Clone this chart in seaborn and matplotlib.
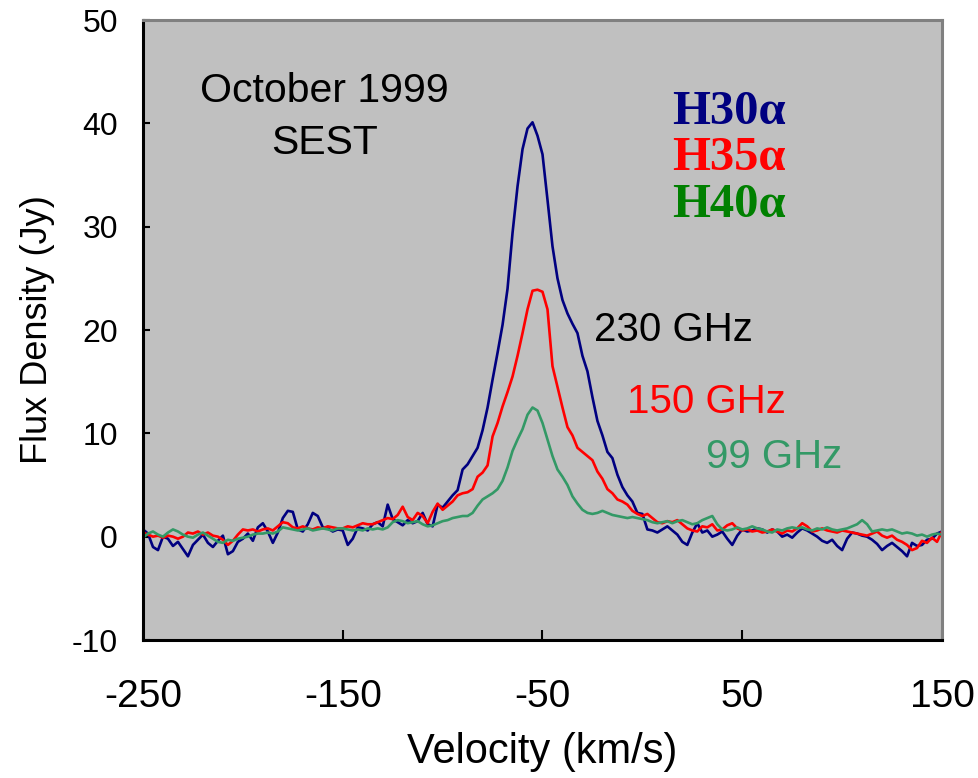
import numpy as np
import pandas as pd
import matplotlib
matplotlib.use("Agg")
import matplotlib.pyplot as plt
import seaborn as sns

# Velocity grid (km/s), 2.5 km/s channels from -250 to 150
velocity = np.arange(-250, 150.01, 2.5)

h30_230ghz = [
    0.7, 0.3, -1.0, -1.3, 0.0, -0.2, -0.9, -0.5, -1.2, -1.9,
    -0.8, -0.3, 0.2, -0.6, -1.0, -0.4, 0.1, -1.7, -1.4, -0.5,
    -0.2, 0.3, -0.4, 0.9, 1.3, 0.5, -0.6, 0.4, 1.8, 2.5,
    2.4, 0.7, 0.5, 1.2, 2.3, 2.0, 0.9, 0.8, 0.5, 0.7,
    0.6, -0.8, -0.2, 0.9, 0.8, 0.6, 1.2, 1.4, 1.0, 3.1,
    1.7, 1.4, 1.1, 1.6, 1.3, 1.5, 2.3, 1.2, 1.0, 3.1,
    2.8, 3.4, 4.0, 4.5, 6.5, 7.0, 7.8, 8.6, 10.3, 12.5,
    15.2, 17.8, 20.5, 24.0, 29.4, 33.9, 37.5, 39.5, 40.1, 38.8,
    37.0, 32.6, 28.1, 25.0, 22.9, 21.6, 20.6, 19.7, 17.5, 16.0,
    13.5, 11.2, 9.8, 8.2, 7.6, 6.0, 4.8, 4.0, 3.4, 2.3,
    2.2, 0.7, 0.6, 0.4, 0.7, 1.0, 0.6, 0.2, -0.5, -0.8,
    0.4, 1.3, 0.4, 0.6, 0.0, 0.2, 0.5, -0.2, -0.8, 0.1,
    0.7, 0.5, 0.6, 0.8, 0.7, 0.4, 0.7, 0.5, 0.0, 0.2,
    -0.1, 0.4, 0.8, 0.6, 0.3, 0.0, -0.4, -0.6, -0.3, -0.9,
    -1.3, -0.2, 0.4, 0.3, 0.1, 0.0, -0.3, -0.7, -1.3, -0.9,
    -0.6, -1.0, -1.4, -1.9, -0.6, -0.9, -0.8, -0.3, -0.2, 0.3,
    0.5,
]

h35_150ghz = [
    0.4, 0.2, 0.0, 0.1, -0.1, 0.1, 0.0, -0.2, 0.0, 0.4,
    0.3, 0.5, 0.2, 0.4, 0.1, 0.0, -0.3, -0.8, -0.4, 0.2,
    0.7, 0.6, 0.7, 0.5, 0.7, 0.8, 0.6, 1.0, 1.4, 1.3,
    0.9, 0.8, 1.0, 0.8, 0.7, 0.9, 0.8, 1.0, 0.9, 0.8,
    0.8, 1.0, 0.9, 1.1, 1.3, 1.2, 1.2, 1.4, 1.6, 1.8,
    1.7, 2.1, 2.9, 1.9, 1.6, 2.3, 2.0, 1.3, 2.4, 3.2,
    2.6, 3.0, 3.4, 4.0, 4.2, 4.3, 4.6, 5.8, 6.2, 6.9,
    9.7, 11.0, 12.6, 14.0, 15.5, 17.5, 19.7, 22.0, 23.8, 23.9,
    23.7, 22.0, 16.5, 14.5, 12.5, 10.6, 9.8, 8.6, 8.2, 7.8,
    7.4, 6.3, 5.6, 4.6, 4.2, 3.6, 3.4, 3.1, 2.5, 2.2,
    2.0, 2.2, 1.8, 1.4, 1.3, 1.5, 1.4, 1.6, 1.2, 0.8,
    0.6, 0.5, 1.0, 0.9, 1.2, 0.6, 0.7, 1.1, 1.3, 0.8,
    0.6, 0.7, 0.5, 0.6, 0.4, 0.5, 0.7, 0.5, 0.3, 0.6,
    0.5, 0.8, 1.3, 1.0, 0.5, 0.6, 0.8, 0.6, 0.5, 0.4,
    0.6, 0.5, 0.4, 0.3, 0.2, 0.1, 0.3, 0.5, 0.1, -0.1,
    0.1, -0.3, -0.5, -0.8, -1.3, -1.1, -0.4, -0.6, -0.1, -0.5,
    0.5,
]

h40_99ghz = [
    -0.1, 0.3, 0.5, 0.2, 0.0, 0.4, 0.7, 0.5, 0.2, 0.0,
    -0.1, 0.2, 0.4, 0.1, -0.2, -0.5, -0.6, -0.3, -0.4, -0.2,
    -0.1, 0.0, 0.2, 0.3, 0.3, 0.4, 0.3, 0.5, 0.9, 0.8,
    0.7, 0.6, 0.7, 0.8, 0.6, 0.7, 0.8, 0.7, 0.6, 0.8,
    0.8, 0.7, 0.6, 0.7, 0.6, 0.8, 0.7, 0.8, 0.7, 0.9,
    1.4, 1.6, 1.5, 1.3, 1.4, 1.5, 1.2, 1.0, 1.1, 1.3,
    1.5, 1.6, 1.8, 1.9, 2.0, 2.0, 2.3, 3.0, 3.6, 3.9,
    4.2, 4.6, 5.4, 6.7, 8.3, 9.4, 10.4, 11.8, 12.5, 12.2,
    11.0, 9.4, 7.8, 6.5, 5.8, 5.0, 3.9, 3.2, 2.6, 2.3,
    2.2, 2.3, 2.5, 2.3, 2.1, 2.0, 1.9, 1.8, 1.9, 1.8,
    1.7, 1.6, 1.4, 1.3, 1.4, 1.5, 1.3, 1.5, 1.6, 1.4,
    1.2, 1.3, 1.6, 1.8, 2.0, 1.2, 0.7, 0.6, 0.7, 0.9,
    0.7, 0.8, 1.0, 0.8, 0.7, 0.5, 0.4, 0.7, 0.6, 0.8,
    0.9, 0.8, 0.9, 0.7, 0.6, 0.8, 0.7, 0.9, 0.7, 0.6,
    0.7, 0.8, 1.0, 1.2, 1.6, 1.2, 0.5, 0.6, 0.7, 0.6,
    0.7, 0.5, 0.3, 0.4, 0.3, 0.1, 0.2, 0.0, 0.2, 0.3,
    0.2,
]

x_ticks = [-250, -150, -50, 50, 150]
y_ticks = [-10, 0, 10, 20, 30, 40, 50]

series_names = ["H30α", "H35α", "H40α"]
freq_labels = ["230 GHz", "150 GHz", "99 GHz"]
line_colors = ["#000080", "#FF0000", "#339966"]
name_colors = ["#000080", "#FF0000", "#008000"]
freq_colors = ["#000000", "#FF0000", "#339966"]

sns.set_theme(style="ticks")
plt.rcParams["font.family"] = ["Liberation Sans", "DejaVu Sans"]
plt.rcParams["text.color"] = "black"
plt.rcParams["axes.labelcolor"] = "black"
plt.rcParams["xtick.color"] = "black"
plt.rcParams["ytick.color"] = "black"

fig = plt.figure(figsize=(9.79, 7.78), dpi=100)
ax = fig.add_axes([143 / 979, 1 - 640 / 778, (942 - 143) / 979, (640 - 20) / 778])
ax.set_facecolor("#C0C0C0")

for vals, col in zip([h30_230ghz, h35_150ghz, h40_99ghz], line_colors):
    df = pd.DataFrame({"v": velocity, "flux": vals})
    sns.lineplot(data=df, x="v", y="flux", color=col, linewidth=1.9,
                 estimator=None, ax=ax, legend=False)

ax.set_xlim(-250, 150)
ax.set_ylim(-10, 50)
ax.set_xticks(x_ticks)
ax.set_yticks(y_ticks)
ax.set_xticklabels([str(t) for t in x_ticks])
ax.set_yticklabels([str(t) for t in y_ticks])
ax.tick_params(axis="x", direction="in", length=7, width=1.5, colors="black",
               labelsize=28, pad=28)
ax.tick_params(axis="y", direction="in", length=5, width=1.5, colors="black",
               labelsize=23, pad=18)
ax.set_xlabel("Velocity (km/s)", fontsize=30, labelpad=12)
ax.set_ylabel("Flux Density (Jy)", fontsize=26, labelpad=12)

for side in ["left", "bottom"]:
    ax.spines[side].set_color("black")
    ax.spines[side].set_linewidth(2.2)
for side in ["top", "right"]:
    ax.spines[side].set_visible(True)
    ax.spines[side].set_color("#808080")
    ax.spines[side].set_linewidth(2.2)

ax.text(-159, 43.1, "October 1999", fontsize=29.5, ha="center", va="center")
ax.text(-159, 38.1, "SEST", fontsize=29.5, ha="center", va="center")

for i, (nm, col) in enumerate(zip(series_names, name_colors)):
    ax.text(15, 41.1 - 4.5 * i, nm, fontsize=35, fontweight="bold", color=col,
            family=["Liberation Serif", "DejaVu Serif"], ha="left", va="center")

freq_pos = [(-24, 20.0), (-7.5, 13.0), (32, 7.7)]
for (fx, fy), lab, col in zip(freq_pos, freq_labels, freq_colors):
    ax.text(fx, fy, lab, fontsize=29, color=col, ha="left", va="center")

fig.savefig("out.png", dpi=100, facecolor="white")
